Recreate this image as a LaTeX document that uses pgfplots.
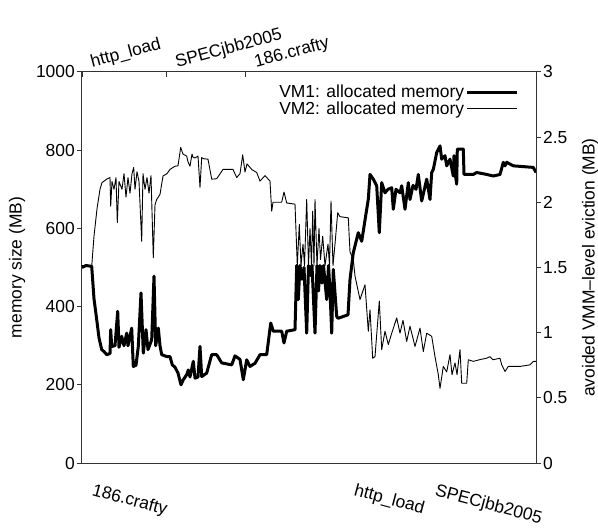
\documentclass[border=0pt]{standalone}
\usepackage{fontspec}
\setmainfont{Liberation Sans}
\usepackage{pgfplots}
\pgfplotsset{compat=1.18}
\begin{document}
\begin{tikzpicture}[font=\fontsize{17.5}{19}\selectfont]
\begin{axis}[
  scale only axis, width=454bp, height=391bp,
  xmin=0, xmax=454, ymin=0, ymax=1000,
  axis y line*=left, axis x line*=bottom,
  axis line style={line width=1bp, black!80, -},
  xtick={0,262,343}, xticklabels={186.crafty,http\_load,SPECjbb2005},
  major x tick style={draw=none},
  ytick={0,200,400,600,800,1000},
  y tick style={black!80, line width=1bp},
  tick align=outside, major tick length=5bp,
  ylabel={memory size (MB)},
  ylabel style={at={(rel axis cs:0,0.5)}, anchor=center, yshift=65bp},
  /pgf/number format/assume math mode=true,
  /pgf/number format/1000 sep={},
  yticklabel style={inner sep=2bp},
  legend style={at={(rel axis cs:0.968,0.975)}, anchor=north east, draw=none, fill=none, font=\fontsize{17.5}{18}\selectfont, row sep=0pt, nodes={inner sep=1.2bp}},
  legend cell align=right, legend plot pos=right,
  legend image code/.code={\draw[#1] (0bp,0bp) -- (50bp,0bp);},
  xticklabel style={rotate=-15, anchor=north west, inner sep=0pt, xshift=16bp, yshift=-11bp},
]
\addplot[black, line width=3bp, line join=round] coordinates {
(0,500) (4,505) (9.7,503) (12,420) (14.7,367) (17,320) (19.7,290) (22,285) (24.7,277) (28,280) (28.7,341) (29.7,298) (33,300) (35.7,388) (37,296) (39.7,324) (42,300) (44.7,332) (46,300) (49.7,345) (51.3,247) (54,250) (56.3,298) (59,435) (61.3,281) (64,341) (66,290) (69.7,315) (72,478) (73.7,300) (76.3,345) (78,300) (79.7,277) (85,272) (88,272) (90.3,251) (93,245) (96,230) (99,200) (101.3,213) (104.7,226) (106.3,238) (108,220) (111.3,260) (113,217) (116,220) (118,298) (119.7,221) (124.7,230) (129.7,277) (134.7,277) (139.7,256) (149.7,251) (153,274) (158,265) (161.3,213) (164.7,264) (168,247) (173,255) (178,277) (184.7,277) (188.7,358) (191.3,337) (199.7,337) (202,307) (204.7,337) (213,341) (214.7,505) (216.3,418) (218,505) (220,470) (222,500) (224.7,332) (226.5,505) (228.5,480) (230,505) (233,332) (235,505) (236.5,440) (238,505) (240,460) (241.5,505) (244.7,418) (246.5,505) (248,440) (249.7,332) (251.3,495) (254.7,375) (256,370) (266,379) (268,469) (271.3,538) (276.3,589) (279.7,567) (284.7,649) (286.3,674) (288,738) (291.3,726) (294.7,709) (297.3,589) (299.7,717) (303,691) (306,700) (309.7,704) (311.3,649) (314,700) (318,691) (319.7,709) (323,649) (326.3,717) (328,674) (331,710) (334,700) (336.3,738) (339.7,670) (344.7,726) (348,674) (349.7,743) (351.3,751) (354.7,794) (358,811) (359.7,777) (363,786) (364.7,760) (368,777) (371.3,734) (372,786) (373,743) (374.7,713) (375.3,803) (381.3,803) (382,738) (391.3,738) (394.7,743) (404.7,738) (411.3,734) (418,738) (421.3,769) (423,760) (424.7,769) (431.3,760) (451.3,756) (454,743)
};
\addlegendentry{VM1: allocated memory}
\addplot[black, line width=0.9bp, line join=round] coordinates {
(0,505) (9.7,503) (12,580) (15,650) (18,700) (20,717) (24.7,726) (28,730) (28.7,657) (30,720) (32,700) (34,730) (35.3,615) (37,720) (40,700) (42,740) (44,680) (46,730) (48,690) (50,740) (51.7,756) (53,700) (55,745) (57,720) (59.7,567) (61,740) (63,700) (65,730) (67,690) (69,735) (71.3,525) (73,660) (74.7,674) (78,687) (81,734) (85,740) (88,751) (93,759) (96,760) (98.7,807) (101,790) (104.7,785) (106,770) (108,759) (110,790) (111,782) (113,780) (116,785) (118,705) (119.7,781) (122,778) (126,777) (129.7,726) (134.7,727) (141,751) (151,751) (154.7,730) (158,740) (160.7,788) (163,744) (165,765) (167,759) (170,750) (174.7,743) (178,721) (183,735) (188,721) (189.7,644) (191,667) (199.7,667) (202,693) (204.7,665) (213,662) (215.3,505) (217.3,610) (219,505) (221,560) (222.5,505) (224.7,674) (226.5,505) (228,600) (229.5,505) (230.7,644) (232,505) (233,674) (235,505) (237,600) (238.5,520) (240.7,580) (243,505) (246,560) (247.5,505) (249,670) (251,505) (253,560) (255.7,640) (258,630) (266.3,627) (268,540) (271.3,520) (273,478) (278,418) (283,456) (286.3,337) (288,392) (290.7,268) (293,272) (297.3,414) (299.7,290) (303,337) (306.3,303) (309.7,332) (314.7,371) (318,332) (321,365) (324.7,311) (328,350) (333,298) (338,345) (341.3,285) (344.7,332) (349.7,324) (353,272) (356.3,226) (358,191) (361.3,247) (364.7,233) (368,277) (370,226) (373,256) (375,226) (378,290) (379.7,204) (384.7,204) (386.3,264) (391.3,260) (399,265) (404.7,268) (408,272) (411,264) (418,268) (419.7,251) (423,234) (426.3,247) (438,247) (448,251) (451.3,260) (454,260)
};
\addlegendentry{VM2: allocated memory}
\path (rel axis cs:0,0) ++(-82bp,-65bp) coordinate (bbSW);
\end{axis}
\begin{axis}[
  scale only axis, width=454bp, height=391bp,
  xmin=0, xmax=454, ymin=0, ymax=3,
  axis y line*=right, axis x line*=top,
  axis line style={line width=1bp, black!80, -},
  xtick={0,84.7,163.7}, xticklabels={http\_load,SPECjbb2005,186.crafty},
  x tick style={black!80, line width=1bp},
  xtick align=inside,
  ytick={0,0.5,1,1.5,2,2.5,3}, yticklabels={0,0.5,1,1.5,2,2.5,3},
  y tick style={black!80, line width=1bp},
  ytick align=outside, major tick length=5bp,
  yticklabel style={inner sep=2bp},
  ylabel={avoided VMM–level eviction (MB)},
  ylabel style={at={(rel axis cs:1,0.5)}, anchor=center, yshift=-54bp},
  /pgf/number format/assume math mode=true,
  xticklabel style={rotate=15, anchor=south west, inner sep=0pt, xshift=11bp, yshift=-2bp},
]
\end{axis}
\pgfresetboundingbox
\path (bbSW) rectangle ++(598bp,528bp);
\end{tikzpicture}
\end{document}
